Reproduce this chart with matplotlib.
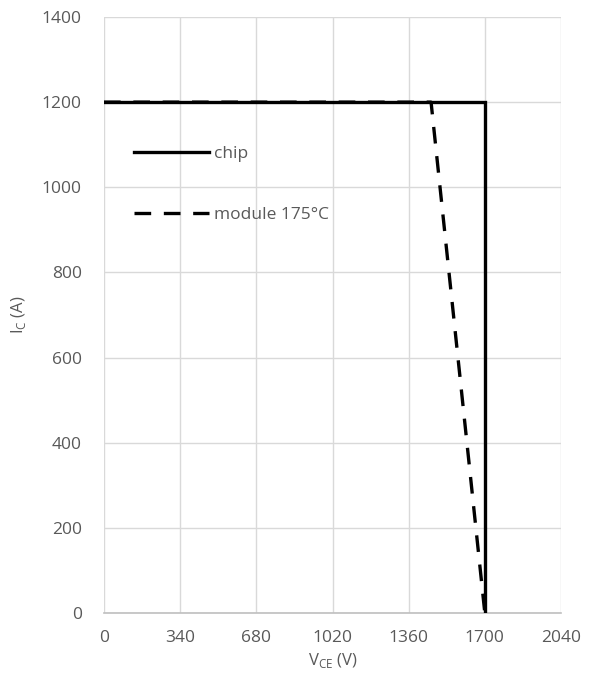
import matplotlib
matplotlib.use("Agg")
import matplotlib.pyplot as plt

# values
chip_v = [0, 1700, 1700]
chip_i = [1200, 1200, 0]
module_v = [0, 1460, 1700]
module_i = [1200, 1200, 0]
x_ticks = [0, 340, 680, 1020, 1360, 1700, 2040]
y_ticks = [0, 200, 400, 600, 800, 1000, 1200, 1400]

txt = "#595959"
grid = "#d9d9d9"

plt.rcParams["font.family"] = ["Open Sans", "DejaVu Sans"]
plt.rcParams["mathtext.fontset"] = "custom"
plt.rcParams["mathtext.rm"] = "Open Sans"

fig = plt.figure(figsize=(5.89, 6.95), dpi=100)
ax = fig.add_axes([104 / 589, 1 - 613 / 695, 457 / 589, 596 / 695])

ax.plot(chip_v, chip_i, color="black", lw=2.4, label="chip",
        solid_joinstyle="miter", zorder=3)
ax.plot(module_v, module_i, color="black", lw=2.4, ls=(0, (5, 3.8)),
        label="module 175°C", zorder=3)

ax.set_xlim(0, 2040)
ax.set_ylim(0, 1400)
ax.set_xticks(x_ticks)
ax.set_yticks(y_ticks)
ax.grid(True, color=grid, lw=1)
ax.set_axisbelow(True)
for s in ["top", "right", "left"]:
    ax.spines[s].set_visible(False)
ax.spines["bottom"].set_color("#bfbfbf")
ax.spines["bottom"].set_linewidth(1.2)
ax.tick_params(length=0, labelsize=12.5, labelcolor=txt, pad=12)
ax.tick_params(axis="y", pad=16)

ax.set_xlabel(r"V$_\mathregular{CE}$ (V)", fontsize=12, color=txt, labelpad=4)
ax.set_ylabel(r"I$_\mathregular{C}$ (A)", fontsize=12, color=txt, labelpad=10)

leg = ax.legend(loc="upper left", bbox_to_anchor=(0.066, 0.783), frameon=False,
                borderpad=0, borderaxespad=0,
                handlelength=4.3, handletextpad=0.3, labelspacing=2.55,
                fontsize=12.5, labelcolor=txt)

fig.savefig("out.png", dpi=100)
